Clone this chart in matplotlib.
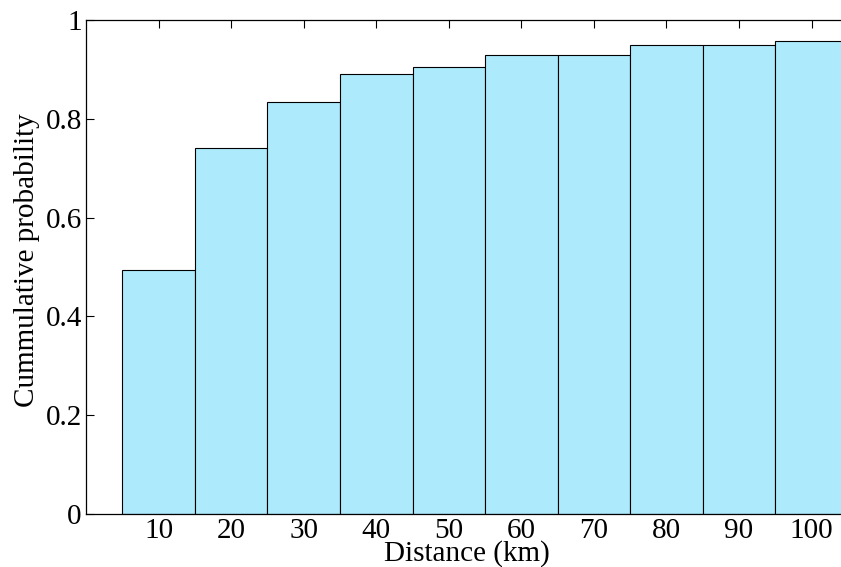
import matplotlib.pyplot as plt

distance = [10, 20, 30, 40, 50, 60, 70, 80, 90, 100]
cum_prob = [0.494, 0.741, 0.835, 0.891, 0.905, 0.929, 0.929, 0.949, 0.949, 0.958]
yticks = [0, 0.2, 0.4, 0.6, 0.8, 1]
ytick_labels = ['0', '0.2', '0.4', '0.6', '0.8', '1']

plt.rcParams['font.family'] = ['Liberation Serif', 'DejaVu Serif']

fig = plt.figure(figsize=(8.41, 5.67), dpi=100)
# axes runs past the right edge of the figure, like the cropped original
ax = fig.add_axes([0.1023, 0.0935, 0.949, 0.8712])

ax.bar(distance, cum_prob, width=10, color='#adebfc', edgecolor='black', linewidth=0.8)

ax.set_xlim(0, 110)
ax.set_ylim(0, 1)
ax.set_xticks(distance)
ax.set_yticks(yticks)
ax.set_yticklabels(ytick_labels)
ax.set_axisbelow(True)
ax.tick_params(direction='in', top=True, right=True, length=6, width=0.8,
               labelsize=21, pad=3)
for s in ax.spines.values():
    s.set_linewidth(0.9)

ax.set_xlabel('Distance (km)', fontsize=21)
ax.xaxis.set_label_coords(0.477, -0.053)
ax.set_ylabel('Cummulative probability', fontsize=21)
ax.yaxis.set_label_coords(-0.058, 0.514)

plt.savefig('out.png', dpi=100)
